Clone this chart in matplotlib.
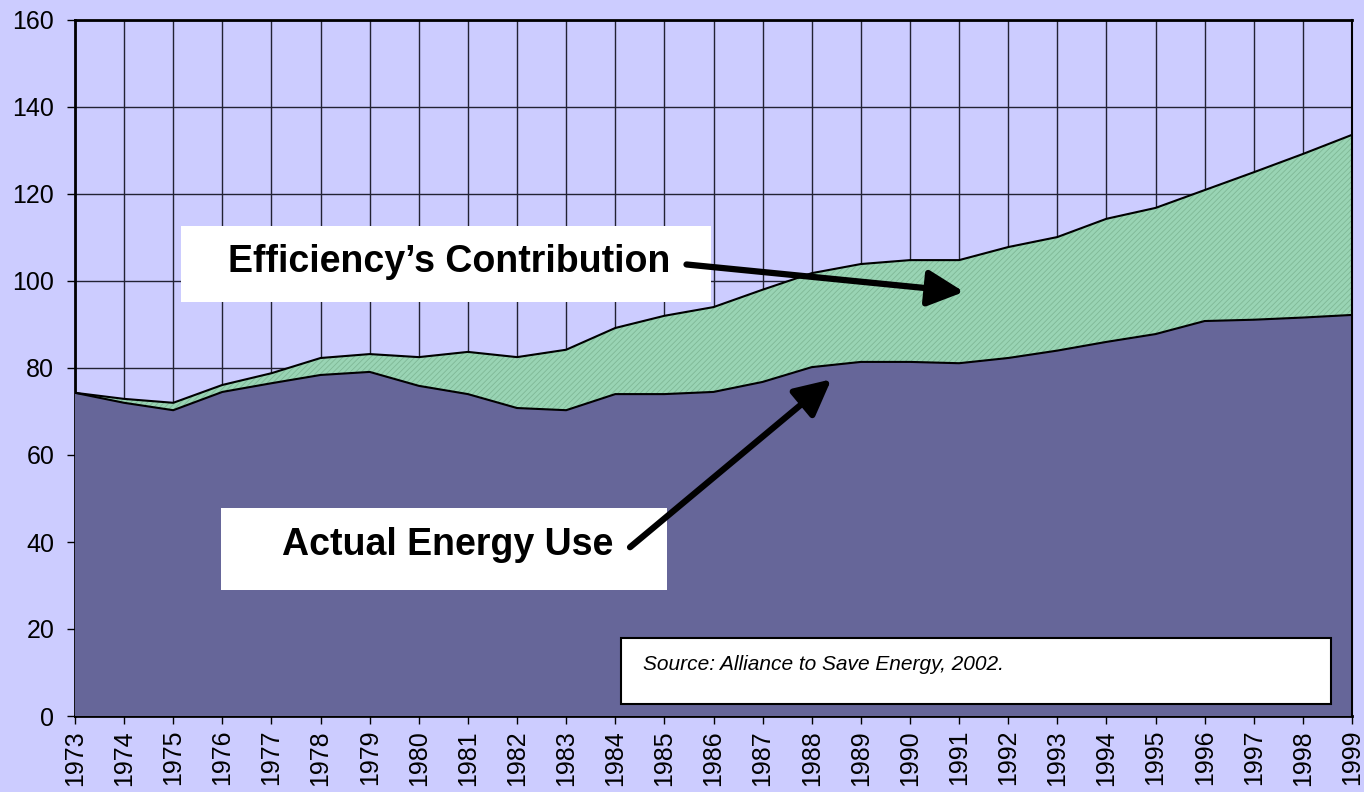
import matplotlib.pyplot as plt
import numpy as np

years = list(range(1973, 2000))
actual_use = [74.3, 72.0, 70.3, 74.5, 76.5, 78.4, 79.1, 75.9, 74.0, 70.8, 70.3, 74.0, 74.0,
              74.5, 76.8, 80.2, 81.4, 81.4, 81.1, 82.3, 84.0, 86.0, 87.8, 90.8, 91.1, 91.6, 92.2]
without_efficiency = [74.3, 72.9, 72.0, 76.1, 78.8, 82.3, 83.2, 82.5, 83.7, 82.5, 84.2, 89.2, 92.0,
                      94.0, 98.0, 101.8, 103.9, 104.8, 104.8, 107.8, 110.1, 114.3, 116.8, 120.9,
                      125.0, 129.2, 133.6]

bg = '#CCCCFF'
plt.rcParams['font.family'] = ['Liberation Sans', 'DejaVu Sans']
plt.rcParams['hatch.color'] = '#7FB896'
plt.rcParams['hatch.linewidth'] = 0.6

fig = plt.figure(figsize=(13.64, 7.92), dpi=100, facecolor=bg)
ax = fig.add_axes([75 / 1364, 76 / 792, 1277 / 1364, 696 / 792])
ax.set_facecolor(bg)

ax.fill_between(years, actual_use, without_efficiency, facecolor='#99D4B4', hatch='//////',
                edgecolor='#7FB896', linewidth=0, zorder=2)
ax.fill_between(years, 0, actual_use, facecolor='#666699', linewidth=0, zorder=3)
ax.plot(years, without_efficiency, color='black', lw=1.5, zorder=4)
ax.plot(years, actual_use, color='black', lw=1.5, zorder=4)

ax.set_xlim(1973, 1999)
ax.set_ylim(0, 160)
ax.set_yticks(range(0, 161, 20))
ax.set_xticks(years)
ax.set_xticklabels([str(y) for y in years], rotation=90, fontsize=18)
ax.tick_params(axis='y', labelsize=18, length=6, width=1, direction='out', pad=9)
ax.tick_params(axis='x', length=6, width=1, direction='out', pad=4)
ax.grid(True, color='#222233', lw=1, zorder=1)
ax.set_axisbelow(True)
for s in ['left', 'bottom', 'top']:
    ax.spines[s].set_linewidth(2)
ax.spines['right'].set_linewidth(1.5)
ax.spines['right'].set_zorder(5)

ft = fig.transFigure

# label boxes
ax.add_patch(plt.Rectangle((181 / 1364, 1 - 302 / 792), 530 / 1364, 76 / 792, transform=ft,
                           facecolor='white', edgecolor='none', zorder=6, clip_on=False))
ax.text(228 / 1364, 1 - 262 / 792, "Efficiency\u2019s Contribution", transform=ft, fontsize=27,
        fontweight='bold', va='center', ha='left', zorder=7)
ax.add_patch(plt.Rectangle((221 / 1364, 1 - 590 / 792), 446 / 1364, 82 / 792, transform=ft,
                           facecolor='white', edgecolor='none', zorder=6, clip_on=False))
ax.text(282 / 1364, 1 - 545 / 792, "Actual Energy Use", transform=ft, fontsize=27,
        fontweight='bold', va='center', ha='left', zorder=7)

# arrows
arrow_style = dict(arrowstyle='-|>,head_length=1.1,head_width=0.55', color='black', lw=4.5,
                   shrinkA=0, shrinkB=0, mutation_scale=20)
ax.annotate('', xy=(1991.1, 97.5), xytext=(1985.45, 103.8), arrowprops=arrow_style,
            annotation_clip=False, zorder=8)
ax.annotate('', xy=(1988.4, 77.4), xytext=(1984.3, 38.8), arrowprops=arrow_style,
            annotation_clip=False, zorder=8)

# source box
ax.add_patch(plt.Rectangle((621 / 1364, 1 - 704 / 792), 710 / 1364, 66 / 792, transform=ft,
                           facecolor='white', edgecolor='black', lw=1.5, zorder=6, clip_on=False))
ax.text(643 / 1364, 1 - 664 / 792, "Source: Alliance to Save Energy, 2002.", transform=ft,
        fontsize=15, fontstyle='italic', va='center', ha='left', zorder=7)

fig.savefig('out.png', dpi=100, facecolor=bg)
